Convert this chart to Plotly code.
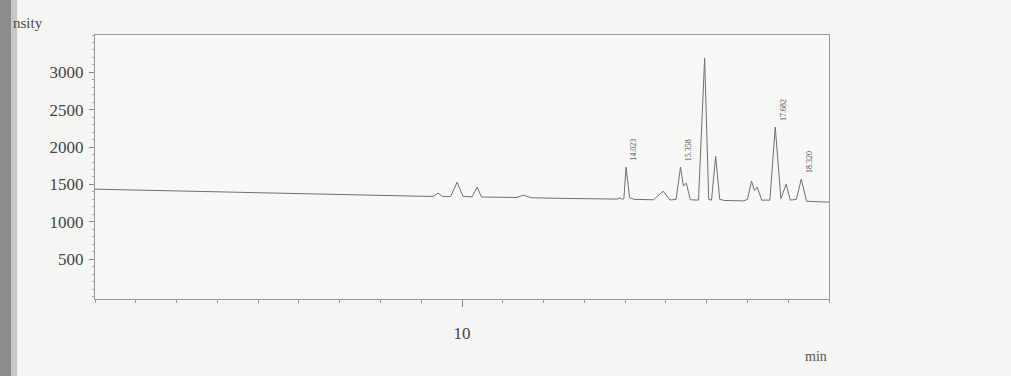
import plotly.graph_objects as go

# Retention time (min) and detector signal
time_min = [1.0, 2.0, 3.0, 4.0, 5.0, 6.0, 7.0, 8.0, 9.0, 9.30, 9.41, 9.52, 9.72, 9.88, 10.02,
            10.12, 10.25, 10.37, 10.48, 11.0, 11.35, 11.5, 11.7, 12.5, 13.5, 13.8, 13.88, 13.93,
            13.97, 14.023, 14.11, 14.22, 14.7, 14.93, 15.1, 15.25, 15.358, 15.43, 15.5, 15.6,
            15.8, 15.95, 16.05, 16.12, 16.22, 16.32, 16.45, 16.9, 17.0, 17.10, 17.17, 17.24,
            17.35, 17.55, 17.682, 17.82, 17.95, 18.05, 18.2, 18.32, 18.45, 18.7, 19.0]
signal = [1437, 1425, 1410, 1395, 1380, 1368, 1358, 1348, 1342, 1340, 1384, 1340, 1338, 1530, 1345,
          1335, 1336, 1464, 1332, 1328, 1326, 1357, 1322, 1313, 1306, 1304, 1318, 1300,
          1310, 1731, 1325, 1300, 1295, 1410, 1292, 1300, 1731, 1480, 1517, 1295,
          1290, 3189, 1300, 1290, 1878, 1300, 1285, 1280, 1300, 1544, 1420, 1464,
          1290, 1290, 2266, 1310, 1504, 1290, 1300, 1571, 1275, 1265, 1263]

# Peak labels
peak_times = [14.023, 15.358, 17.682, 18.32]
peak_heights = [1731, 1731, 2266, 1571]
peak_labels = ["14.023", "15.358", "17.682", "18.320"]

# Axis ticks
x_tick_vals = [10]
x_tick_text = ["10"]
y_tick_vals = [500, 1000, 1500, 2000, 2500, 3000]
y_tick_text = ["500", "1000", "1500", "2000", "2500", "3000"]

fig = go.Figure()
fig.add_trace(go.Scatter(x=time_min, y=signal, mode="lines",
                         line=dict(color="#707070", width=1), hoverinfo="skip",
                         showlegend=False))

for t, h, lab in zip(peak_times, peak_heights, peak_labels):
    fig.add_annotation(x=t, y=h, text=lab, showarrow=False, textangle=-90,
                       xanchor="left", yanchor="bottom", xshift=1, yshift=4,
                       font=dict(family="Liberation Serif", size=8, color="#555"))

axis_font = dict(family="Liberation Serif", size=17, color="#444444")

fig.update_xaxes(range=[1, 19], tickvals=x_tick_vals, ticktext=x_tick_text,
                 ticks="outside", ticklen=7, tickcolor="#888", tickwidth=1,
                 minor=dict(dtick=1, tick0=1, ticks="outside", ticklen=3, tickcolor="#999"),
                 showline=True, linecolor="#999", linewidth=1, mirror=True,
                 showgrid=False, zeroline=False, tickfont=axis_font, ticklabelstandoff=12)
fig.update_yaxes(range=[-33, 3500], tickvals=y_tick_vals, ticktext=y_tick_text,
                 ticks="outside", ticklen=5, tickcolor="#888", tickwidth=1,
                 minor=dict(dtick=100, ticks="outside", ticklen=2, tickcolor="#aaa"),
                 showline=True, linecolor="#999", linewidth=1, mirror=True,
                 showgrid=False, zeroline=False, tickfont=axis_font, ticklabelstandoff=2)

fig.add_annotation(xref="paper", yref="paper", x=-0.115, y=1.0, xanchor="left", yanchor="bottom",
                   yshift=2, text="nsity", showarrow=False,
                   font=dict(family="Liberation Serif", size=15, color="#4a4a4a"))
fig.add_annotation(xref="paper", yref="paper", x=1.0, y=0, xanchor="right", yanchor="top",
                   yshift=-48, text="min", showarrow=False,
                   font=dict(family="Liberation Serif", size=14, color="#555"))

# scan shadow on the left edge
fig.add_shape(type="rect", xref="paper", yref="paper", x0=-0.13, x1=-0.114, y0=-0.3, y1=1.2,
              fillcolor="#8c8c8c", line_width=0, layer="below")
fig.add_shape(type="rect", xref="paper", yref="paper", x0=-0.114, x1=-0.106, y0=-0.3, y1=1.2,
              fillcolor="#c8c8c8", line_width=0, layer="below")

fig.update_layout(width=1011, height=376,
                  margin=dict(l=95, r=182, t=35, b=77),
                  paper_bgcolor="#f5f5f3", plot_bgcolor="#f8f8f6")

fig.write_html("out.html")
